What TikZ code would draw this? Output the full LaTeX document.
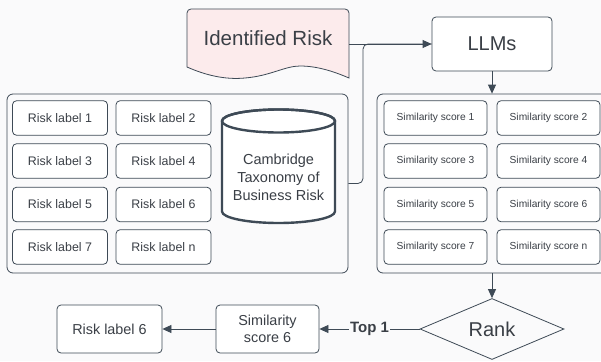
\documentclass[tikz,border=0pt]{standalone}
\usepackage{fontspec}
\setmainfont{Liberation Sans}
\usetikzlibrary{arrows.meta,shapes.geometric,calc}
\definecolor{edge}{HTML}{3E4A56}
\definecolor{txt}{HTML}{3A3F46}
\definecolor{bg}{HTML}{FAFAFB}
\definecolor{docfill}{HTML}{FCEBEC}
\tikzset{
  box/.style={draw=edge, line width=0.8pt, rounded corners=4pt, fill=white,
    text=txt, inner sep=0pt, align=center},
  riskbox/.style={box, minimum width=95pt, minimum height=34.5pt,
    font=\fontsize{12.4}{14}\selectfont},
  simbox/.style={box, minimum width=103pt, minimum height=34.5pt,
    font=\fontsize{10.2}{12}\selectfont},
  group/.style={draw=edge, line width=0.8pt, rounded corners=6pt, inner sep=0pt},
  conn/.style={draw=edge, line width=0.8pt,
    -{Triangle[width=8pt,length=9pt]}},
  plain/.style={draw=edge, line width=0.8pt},
}
\begin{document}
\begin{tikzpicture}[x=1pt,y=-1pt]
\useasboundingbox (0,0) rectangle (601,361);
\fill[bg] (0,0) rectangle (601,361);
\begin{scope}
\clip (0,0) rectangle (601,361);

% input document
\draw[edge, line width=0.8pt, fill=docfill, rounded corners=4pt]
  (187,67) -- (187,9) -- (349,9) [sharp corners] -- (349,78)
  .. controls (335,72) and (318,66) .. (300,66)
  .. controls (285,66) and (270,76) .. (245,78)
  .. controls (225,80) and (205,75) .. (187,67) -- cycle;
\node[minimum width=162pt, minimum height=58pt, inner sep=0pt, text=txt,
  font=\fontsize{20.5}{24}\selectfont] (doc) at (268,38) {Identified Risk};

% language model
\node[box, minimum width=120pt, minimum height=54pt,
  font=\fontsize{20}{24}\selectfont] (llm) at (492,44) {LLMs};

% taxonomy group
\node[group, minimum width=341pt, minimum height=179pt] (lc) at (177.5,183.5) {};
\node[riskbox] (r1) at (60,118) {Risk label 1};
\node[riskbox] (r2) at (163.5,118) {Risk label 2};
\node[riskbox] (r3) at (60,161) {Risk label 3};
\node[riskbox] (r4) at (163.5,161) {Risk label 4};
\node[riskbox] (r5) at (60,204.5) {Risk label 5};
\node[riskbox] (r6) at (163.5,204.5) {Risk label 6};
\node[riskbox] (r7) at (60,247) {Risk label 7};
\node[riskbox] (rn) at (163.5,247) {Risk label n};

% database cylinder (y axis points down, so the lower rim runs through 90 degrees)
\draw[edge, line width=2.4pt, fill=white]
  (222,121) -- (222,211.5) arc[start angle=180, end angle=0, x radius=56.5, y radius=11.5]
  -- (335,121) arc[start angle=0, end angle=-180, x radius=56.5, y radius=11.5];
\draw[edge, line width=2.4pt] (278.5,121) ellipse[x radius=56.5, y radius=11.5];
\node[text=txt, align=center, font=\fontsize{14.5}{18}\selectfont] (db)
  at (278.5,177) {Cambridge\\Taxonomy of\\Business Risk};

% similarity group
\node[group, minimum width=235pt, minimum height=179pt] (rc) at (494.5,183.5) {};
\node[simbox] (s1) at (435.5,118) {Similarity score 1};
\node[simbox] (s2) at (548.5,118) {Similarity score 2};
\node[simbox] (s3) at (435.5,161) {Similarity score 3};
\node[simbox] (s4) at (548.5,161) {Similarity score 4};
\node[simbox] (s5) at (435.5,204.5) {Similarity score 5};
\node[simbox] (s6) at (548.5,204.5) {Similarity score 6};
\node[simbox] (s7) at (435.5,247) {Similarity score 7};
\node[simbox] (sn) at (548.5,247) {Similarity score n};

% ranking and result
\node[diamond, draw=edge, line width=0.8pt, fill=bg, inner sep=0pt,
  aspect=2.36, minimum width=144pt, minimum height=61pt, text=txt,
  font=\fontsize{20}{24}\selectfont] (rank) at (492,329) {Rank};
\node[box, minimum width=103pt, minimum height=48pt,
  font=\fontsize{14.4}{17.5}\selectfont] (top) at (267.5,329) {Similarity\\score 6};
\node[box, minimum width=105pt, minimum height=48pt,
  font=\fontsize{14.4}{17.5}\selectfont] (res) at (109.5,329) {Risk label 6};

% connectors
\coordinate (bend) at (363,44);
\draw[plain, rounded corners=5pt] (lc.east) -| (bend) -- (llm.west);
\draw[conn] (doc.east |- llm.west) -- (llm.west);
\draw[conn] (llm.south) -- (llm.south |- rc.north);
\draw[conn] (llm.south |- rc.south) -- (rank.north);
\draw[conn] (rank.west) -- node[fill=bg, inner sep=1pt, text=txt,
  font=\bfseries\fontsize{15}{18}\selectfont] {Top 1} (top.east);
\draw[conn] (top.west) -- (res.east);
\end{scope}
\end{tikzpicture}
\end{document}
